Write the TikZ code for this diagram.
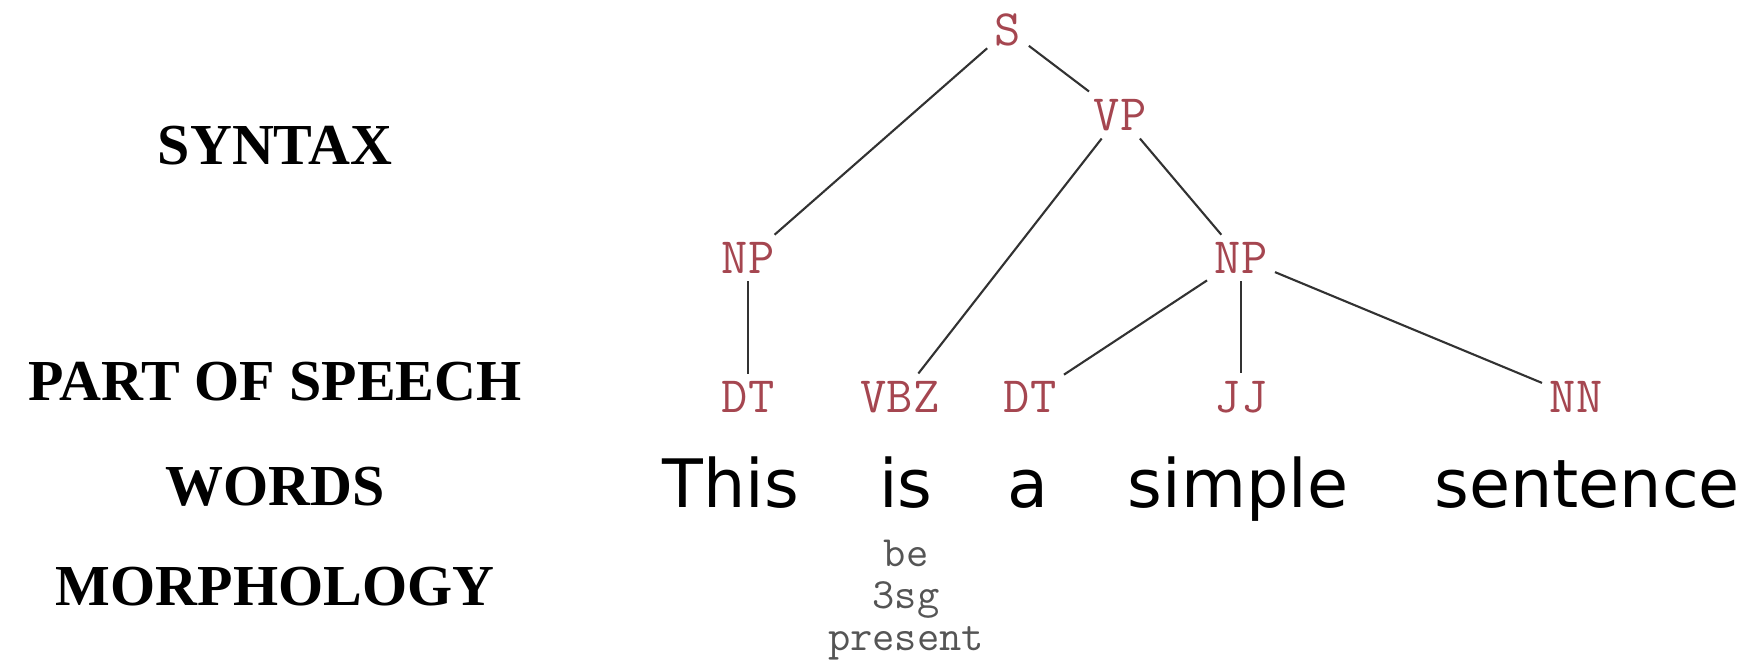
\documentclass[tikz,border=0pt]{standalone}
\usepackage{fontspec}
\setmainfont{DejaVu Sans}
\newfontfamily\rowfont{Liberation Serif}
\newfontfamily\tagfont{Latin Modern Mono}
\definecolor{tagred}{RGB}{165,70,80}
\definecolor{morphgray}{RGB}{85,85,85}
\definecolor{branchgray}{RGB}{50,50,50}
\tikzset{
  rowlabel/.style={font=\rowfont\bfseries\fontsize{16.5}{20}\selectfont, anchor=base},
  postag/.style={font=\tagfont\fontsize{14.5}{16}\selectfont, text=tagred, inner sep=2pt},
  wordnode/.style={font=\fontsize{19}{23}\selectfont, anchor=base},
  morph/.style={font=\tagfont\fontsize{12.3}{12}\selectfont, text=morphgray, align=center},
  branch/.style={draw=branchgray, line width=0.6pt}
}
\begin{document}
\begin{tikzpicture}
\useasboundingbox (0,0) rectangle (17.53,-6.63);
% row labels
\node[rowlabel] (syntax) at (2.75,-1.64) {SYNTAX};
\node[rowlabel] (pos) at (2.75,-4.00) {PART OF SPEECH};
\node[rowlabel] (words) at (2.75,-5.05) {WORDS};
\node[rowlabel] (morphology) at (2.75,-6.05) {MORPHOLOGY};
% tree
\node[postag] (S) at (10.08,-0.30) {S};
\node[postag] (VP) at (11.20,-1.15) {VP};
\node[postag] (NPl) at (7.48,-2.58) {NP};
\node[postag] (NPr) at (12.41,-2.58) {NP};
\node[postag] (DTa) at (7.48,-3.97) {DT};
\node[postag] (VBZ) at (9.00,-3.97) {VBZ};
\node[postag] (DTb) at (10.30,-3.97) {DT};
\node[postag] (JJ) at (12.41,-3.97) {JJ};
\node[postag] (NN) at (15.76,-3.97) {NN};
\draw[branch] (S) -- (NPl);
\draw[branch] (S) -- (VP);
\draw[branch] (VP) -- (VBZ);
\draw[branch] (VP) -- (NPr);
\draw[branch] (NPl) -- (DTa);
\draw[branch] (NPr) -- (DTb);
\draw[branch] (NPr) -- (JJ);
\draw[branch] (NPr) -- (NN);
% words
\node[wordnode] (this) at (7.31,-5.07) {This};
\node[wordnode] (is) at (9.06,-5.07) {is};
\node[wordnode] (a) at (10.28,-5.07) {a};
\node[wordnode] (simple) at (12.38,-5.07) {simple};
\node[wordnode] (sentence) at (15.87,-5.07) {sentence};
% morphology
\node[morph] (be) at (9.06,-6.00) {be\\3sg\\present};
\end{tikzpicture}
\end{document}
